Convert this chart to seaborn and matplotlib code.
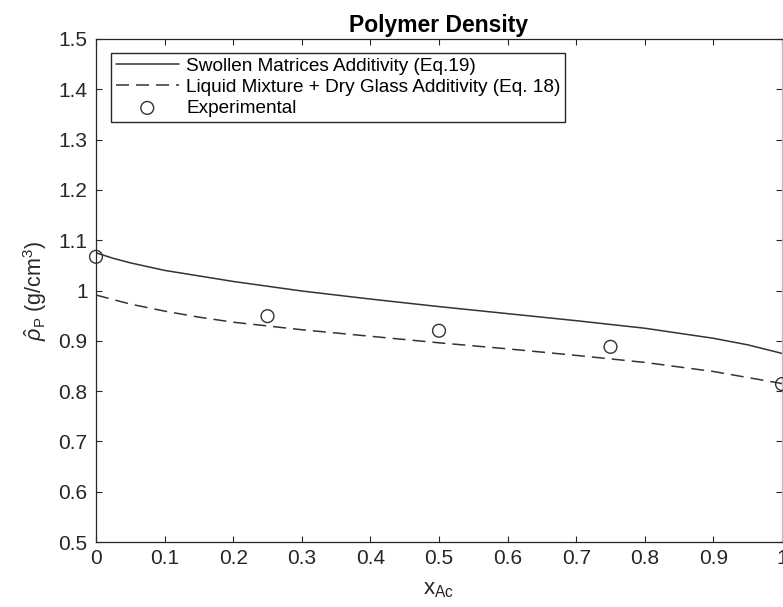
import numpy as np
import pandas as pd
import matplotlib
matplotlib.use("Agg")
import matplotlib.pyplot as plt
import seaborn as sns

# ---- data ----
x_solid = [0.0, 0.025, 0.05, 0.1, 0.15, 0.2, 0.3, 0.4, 0.5, 0.6, 0.7, 0.8, 0.9, 0.95, 1.0]
y_solid = [1.075, 1.064, 1.055, 1.040, 1.029, 1.018, 0.999, 0.983, 0.968, 0.954, 0.940, 0.925, 0.905, 0.892, 0.875]

x_dash = [0.0, 0.05, 0.1, 0.15, 0.2, 0.3, 0.4, 0.5, 0.6, 0.7, 0.8, 0.9, 1.0]
y_dash = [0.991, 0.973, 0.959, 0.947, 0.937, 0.922, 0.909, 0.896, 0.884, 0.871, 0.857, 0.839, 0.815]

x_exp = [0.0, 0.25, 0.5, 0.75, 1.0]
y_exp = [1.067, 0.949, 0.920, 0.888, 0.814]

xticks = [0, 0.1, 0.2, 0.3, 0.4, 0.5, 0.6, 0.7, 0.8, 0.9, 1.0]
xticklabels = ["0", "0.1", "0.2", "0.3", "0.4", "0.5", "0.6", "0.7", "0.8", "0.9", "1"]
yticks = [0.5, 0.6, 0.7, 0.8, 0.9, 1.0, 1.1, 1.2, 1.3, 1.4, 1.5]
yticklabels = ["0.5", "0.6", "0.7", "0.8", "0.9", "1", "1.1", "1.2", "1.3", "1.4", "1.5"]

labels = ["Swollen Matrices Additivity (Eq.19)",
          "Liquid Mixture + Dry Glass Additivity (Eq. 18)",
          "Experimental"]

# ---- style ----
sns.set_style("ticks")
plt.rcParams["font.family"] = ["Liberation Sans", "DejaVu Sans"]
plt.rcParams["mathtext.fontset"] = "custom"
plt.rcParams["mathtext.rm"] = "Liberation Sans"
plt.rcParams["mathtext.it"] = "Liberation Sans:italic"
plt.rcParams["xtick.direction"] = "in"
plt.rcParams["ytick.direction"] = "in"

ink = "#262626"
linec = "#333333"

fig = plt.figure(figsize=(7.83, 6.07), dpi=100)
ax = fig.add_axes([96 / 783, 65 / 607, 686 / 783, 503 / 607])

df_s = pd.DataFrame({"x": x_solid, "y": y_solid})
df_d = pd.DataFrame({"x": x_dash, "y": y_dash})
df_e = pd.DataFrame({"x": x_exp, "y": y_exp})

sns.lineplot(data=df_s, x="x", y="y", ax=ax, color=linec, lw=1.1,
             label=labels[0], estimator=None, sort=False)
sns.lineplot(data=df_d, x="x", y="y", ax=ax, color=linec, lw=1.1,
             label=labels[1], estimator=None, sort=False)
ax.lines[1].set_dashes([8.5, 4.6])
sns.scatterplot(data=df_e, x="x", y="y", ax=ax, marker="o", s=85,
                facecolors="none", edgecolors=linec, linewidth=1.0,
                label=labels[2], clip_on=False, zorder=3)

ax.set_xlim(0, 1)
ax.set_ylim(0.5, 1.5)
ax.set_xticks(xticks)
ax.set_xticklabels(xticklabels)
ax.set_yticks(yticks)
ax.set_yticklabels(yticklabels)
ax.tick_params(axis="both", which="both", direction="in", length=4.5, width=0.8,
               colors=ink, labelsize=15, top=True, right=True)
ax.tick_params(axis="x", pad=5)
ax.tick_params(axis="y", pad=6)
for sp in ax.spines.values():
    sp.set_visible(True)
    sp.set_color(ink)
    sp.set_linewidth(0.9)
ax.spines["right"].set_color("#bbbbbb")

ax.set_title("Polymer Density", fontsize=16.5, fontweight="bold", color="black", pad=5)
ax.set_xlabel(r"x$_{\mathregular{Ac}}$", fontsize=16, color=ink, labelpad=8)
ax.set_ylabel(r"$\hat{\rho}_{\mathregular{P}}$ (g/cm$^{3}$)", fontsize=15.5, color=ink, labelpad=7)

leg = ax.legend(loc="upper left", bbox_to_anchor=(0.022, 0.973), borderaxespad=0,
                fontsize=13.7, frameon=True, fancybox=False, handlelength=3.3,
                handletextpad=0.4, labelspacing=0.2, borderpad=0.25)
leg.get_frame().set_edgecolor(ink)
leg.get_frame().set_linewidth(1.0)
leg.get_frame().set_alpha(1)
for t in leg.get_texts():
    t.set_color("black")

fig.savefig("out.png", dpi=100)
